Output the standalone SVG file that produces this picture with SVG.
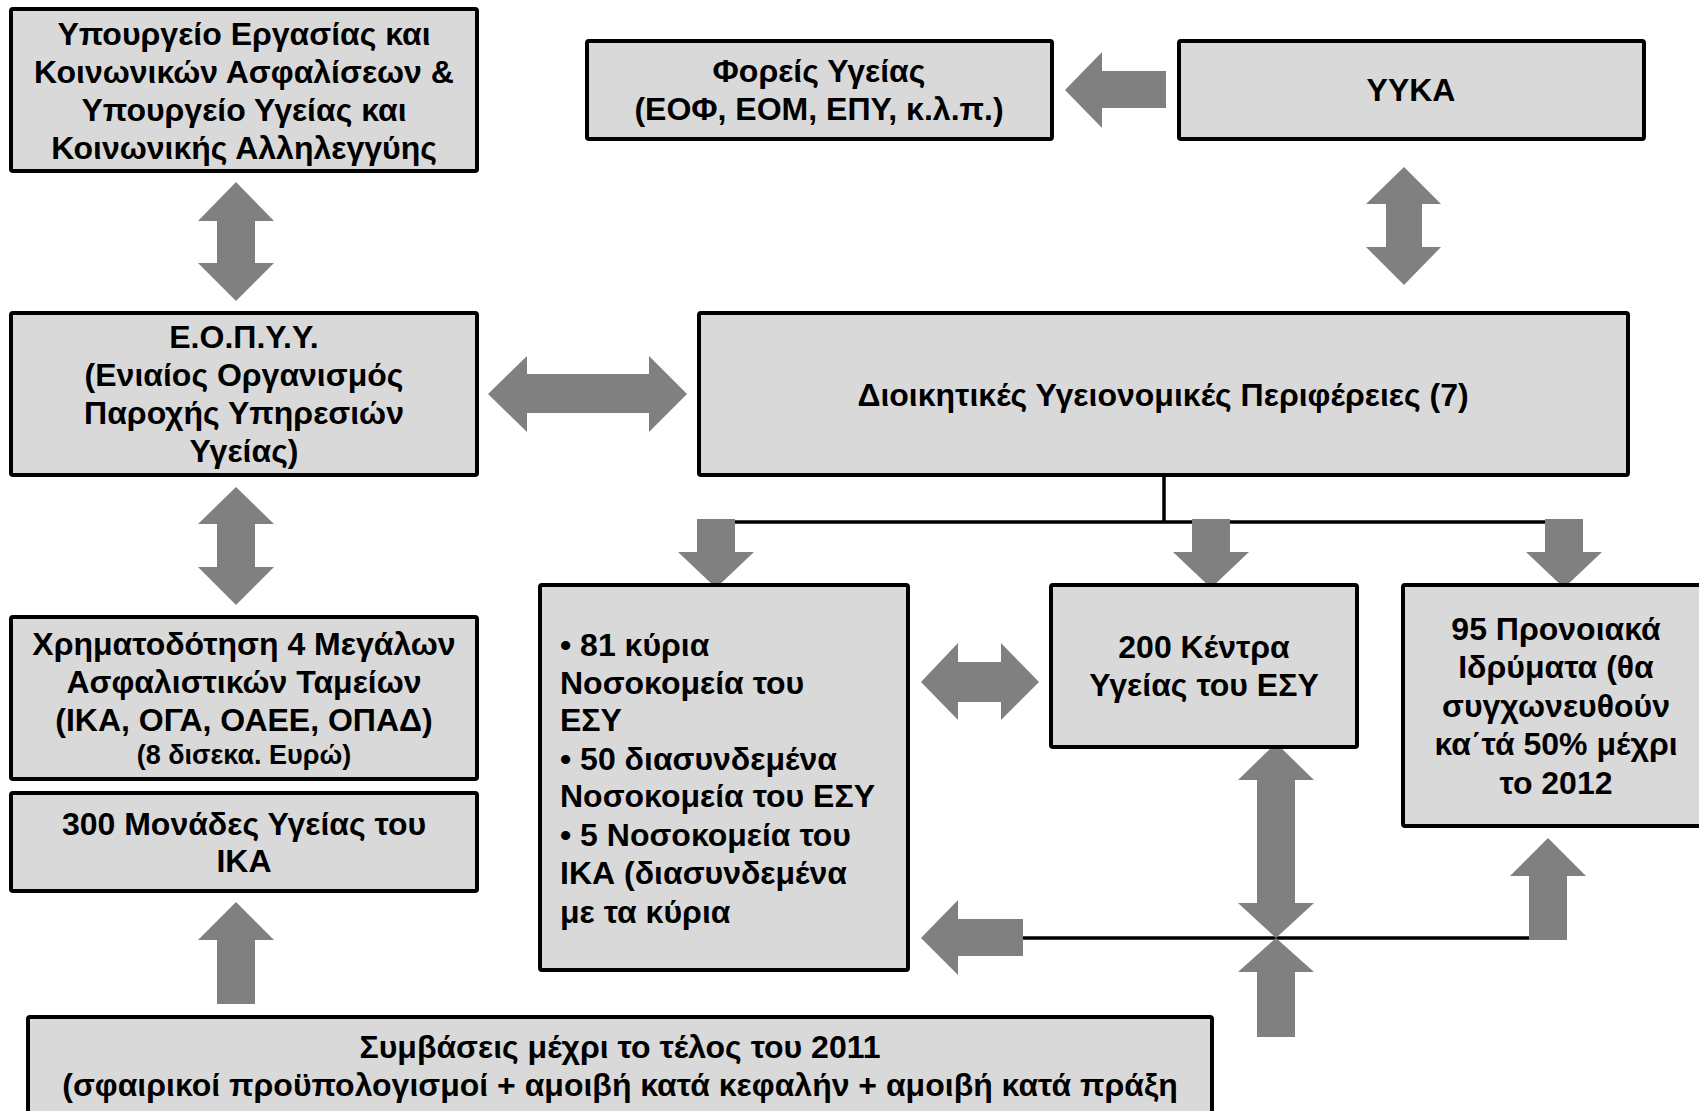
<svg xmlns="http://www.w3.org/2000/svg" width="1699" height="1111" viewBox="0 0 1699 1111">
<style>
.box{fill:#d9d9d9;stroke:#000;stroke-width:4}
.t{font-family:"Liberation Sans",Arial,sans-serif;font-weight:bold;font-size:32px;fill:#000;text-anchor:middle}
.tl{text-anchor:start}
.s{font-size:27px}
.ar{fill:#808080}
.ln{stroke:#000;stroke-width:3.5;fill:none}
</style>
<rect width="1699" height="1111" fill="#fff"/>
<g id="connectors">
<polyline class="ln" points="1164,475 1164,522"/>
<line class="ln" x1="716" y1="522" x2="1564" y2="522"/>
<line class="ln" x1="1020" y1="938" x2="1550" y2="938"/>
<polygon class="ar" points="236,182 274,221 255,221 255,263 274,263 236,301 198,263 217,263 217,221 198,221"/>
<polygon class="ar" points="236,487 274,524 255,524 255,567 274,567 236,605 198,567 217,567 217,524 198,524"/>
<polygon class="ar" points="236,902 274,940 255,940 255,1004 217,1004 217,940 198,940"/>
<polygon class="ar" points="1065,90 1102,52 1102,71 1166,71 1166,108 1102,108 1102,128"/>
<polygon class="ar" points="1404,167 1441,204 1422,204 1422,247 1441,247 1404,285 1366,247 1386,247 1386,204 1366,204"/>
<polygon class="ar" points="488,394 527,356 527,374 649,374 649,356 687,394 649,432 649,413 527,413 527,432"/>
<polygon class="ar" points="716,588 754,552 735,552 735,519 697,519 697,552 678,552"/>
<polygon class="ar" points="1211,588 1249,552 1230,552 1230,519 1192,519 1192,552 1173,552"/>
<polygon class="ar" points="1564,588 1602,552 1583,552 1583,519 1545,519 1545,552 1526,552"/>
<polygon class="ar" points="921,682 958,643 958,662 1001,662 1001,643 1039,682 1001,720 1001,702 958,702 958,720"/>
<polygon class="ar" points="1276,743 1314,780 1295,780 1295,903 1314,903 1276,938 1238,903 1257,903 1257,780 1238,780"/>
<polygon class="ar" points="1276,938 1314,972 1295,972 1295,1037 1257,1037 1257,972 1238,972"/>
<polygon class="ar" points="921,938 958,900 958,919 1023,919 1023,956 958,956 958,975"/>
<polygon class="ar" points="1548,838 1586,876 1567,876 1567,940 1529,940 1529,876 1510,876"/>
</g>
<g id="n-ministries">
<rect class="box" x="11" y="9" width="466" height="162" rx="2"/>
<text class="t" x="244"><tspan x="244" y="45">Υπουργείο Εργασίας και</tspan><tspan x="244" y="83">Κοινωνικών Ασφαλίσεων &amp;</tspan><tspan x="244" y="121">Υπουργείο Υγείας και</tspan><tspan x="244" y="159">Κοινωνικής Αλληλεγγύης</tspan></text>
</g>
<g id="n-foreis">
<rect class="box" x="587" y="41" width="465" height="98" rx="2"/>
<text class="t"><tspan x="819" y="82">Φορείς Υγείας</tspan><tspan x="819" y="120">(ΕΟΦ, ΕΟΜ, ΕΠΥ, κ.λ.π.)</tspan></text>
</g>
<g id="n-yyka">
<rect class="box" x="1179" y="41" width="465" height="98" rx="2"/>
<text class="t" x="1411" y="101">ΥΥΚΑ</text>
</g>
<g id="n-eopyy">
<rect class="box" x="11" y="313" width="466" height="162" rx="2"/>
<text class="t"><tspan x="244" y="348">Ε.Ο.Π.Υ.Υ.</tspan><tspan x="244" y="386">(Ενιαίος Οργανισμός</tspan><tspan x="244" y="424">Παροχής Υπηρεσιών</tspan><tspan x="244" y="462">Υγείας)</tspan></text>
</g>
<g id="n-dype">
<rect class="box" x="699" y="313" width="929" height="162" rx="2"/>
<text class="t" x="1163" y="406">Διοικητικές Υγειονομικές Περιφέρειες (7)</text>
</g>
<g id="n-funding">
<rect class="box" x="11" y="617" width="466" height="162" rx="2"/>
<text class="t"><tspan x="244" y="655">Χρηματοδότηση 4 Μεγάλων</tspan><tspan x="244" y="693">Ασφαλιστικών Ταμείων</tspan><tspan x="244" y="731">(ΙΚΑ, ΟΓΑ, ΟΑΕΕ, ΟΠΑΔ)</tspan><tspan class="s" x="244" y="764">(8 δισεκα. Ευρώ)</tspan></text>
</g>
<g id="n-ika300">
<rect class="box" x="11" y="793" width="466" height="98" rx="2"/>
<text class="t"><tspan x="244" y="835">300 Μονάδες Υγείας του</tspan><tspan x="244" y="872">ΙΚΑ</tspan></text>
</g>
<g id="n-hospitals">
<rect class="box" x="540" y="585" width="368" height="385" rx="2"/>
<text class="t tl"><tspan x="560" y="656">• 81 κύρια</tspan><tspan x="560" y="694">Νοσοκομεία του</tspan><tspan x="560" y="731">ΕΣΥ</tspan><tspan x="560" y="770">• 50 διασυνδεμένα</tspan><tspan x="560" y="807">Νοσοκομεία του ΕΣΥ</tspan><tspan x="560" y="846">• 5 Νοσοκομεία του</tspan><tspan x="560" y="884">ΙΚΑ (διασυνδεμένα</tspan><tspan x="560" y="923">με τα κύρια</tspan></text>
</g>
<g id="n-centers">
<rect class="box" x="1051" y="585" width="306" height="162" rx="2"/>
<text class="t"><tspan x="1204" y="658">200 Κέντρα</tspan><tspan x="1204" y="696">Υγείας του ΕΣΥ</tspan></text>
</g>
<g id="n-welfare">
<rect class="box" x="1403" y="585" width="320" height="241" rx="2"/>
<text class="t"><tspan x="1556" y="640">95 Προνοιακά</tspan><tspan x="1556" y="678">Ιδρύματα (θα</tspan><tspan x="1556" y="717">συγχωνευθούν</tspan><tspan x="1556" y="755">κα΄τά 50% μέχρι</tspan><tspan x="1556" y="794">το 2012</tspan></text>
</g>
<g id="n-contracts">
<rect class="box" x="28" y="1017" width="1184" height="120" rx="2"/>
<text class="t"><tspan x="620" y="1058">Συμβάσεις μέχρι το τέλος του 2011</tspan><tspan x="620" y="1096">(σφαιρικοί προϋπολογισμοί + αμοιβή κατά κεφαλήν + αμοιβή κατά πράξη</tspan></text>
</g>
</svg>
